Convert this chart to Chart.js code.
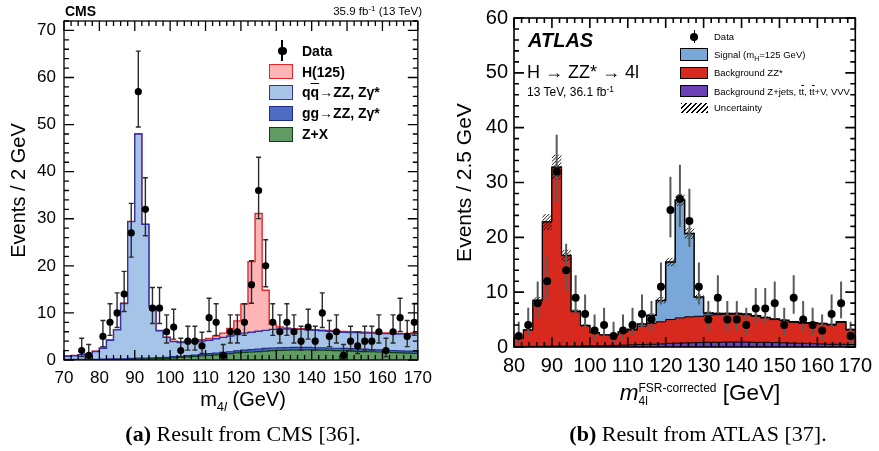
<!DOCTYPE html>
<html lang="en">
<head>
  <meta charset="UTF-8">
  <title>Four-lepton invariant mass: CMS and ATLAS</title>
  <script src="https://cdn.jsdelivr.net/npm/chart.js"></script>
  <style>
    body { margin: 0; background: #fff; font-family: 'Liberation Sans', Arial, sans-serif; color: #000; }
    #page { position: relative; width: 879px; height: 451px; overflow: hidden; }
    .panel { position: absolute; top: 0; height: 400px; }
    .t { position: absolute; white-space: nowrap; line-height: 1; }
    .c { transform: translateX(-50%); }
    .box { position: absolute; box-sizing: border-box; }
    .dot { position: absolute; border-radius: 50%; background: #000; }
    .cap { font-family: 'Liberation Serif', 'DejaVu Serif', serif; font-size: 22px; }
    .ov { text-decoration: overline; }
    sup { font-size: 0.7em; vertical-align: 0.45em; line-height: 0; }
    .ss { display: inline-block; font-size: 12px; line-height: 1.05; vertical-align: -5px; font-style: normal; }
    .ss span { display: block; }
  </style>
</head>
<body>
<div id="page">
  <div class="panel" style="left:0;width:440px"><canvas id="cms"></canvas></div>
  <div class="panel" style="left:440px;width:439px"><canvas id="atlas"></canvas></div>

  <!-- CMS panel text -->
  <div class="t" style="left:65px;top:4px;font-size:14px;font-weight:bold">CMS</div>
  <div class="t" style="right:457px;top:6px;font-size:11.5px">35.9 fb<sup>-1</sup> (13 TeV)</div>

  <div class="box" style="left:281px;top:40px;width:1.5px;height:21px;background:#000"></div>
  <div class="dot" style="left:278px;top:46.5px;width:8.5px;height:8.5px"></div>
  <div class="t" style="left:302px;top:44px;font-size:14px;font-weight:bold">Data</div>
  <div class="box" style="left:269px;top:64px;width:24px;height:15px;background:#ffb5b5;border:1.5px solid #e3262b"></div>
  <div class="t" style="left:302px;top:65px;font-size:14px;font-weight:bold">H(125)</div>
  <div class="box" style="left:269px;top:85px;width:24px;height:15px;background:#a5c4e8;border:1.5px solid #3431a6"></div>
  <div class="t" style="left:302px;top:85px;font-size:14px;font-weight:bold">q<span class="ov">q</span>→ZZ, Zγ*</div>
  <div class="box" style="left:269px;top:106px;width:24px;height:15px;background:#4d6cc2;border:1.5px solid #1f2c8f"></div>
  <div class="t" style="left:302px;top:106px;font-size:14px;font-weight:bold">gg→ZZ, Zγ*</div>
  <div class="box" style="left:269px;top:127px;width:24px;height:15px;background:#5f9b62;border:1.5px solid #0d3d10"></div>
  <div class="t" style="left:302px;top:127px;font-size:14px;font-weight:bold">Z+X</div>

  <div class="t c" style="left:243px;top:389px;font-size:20px">m<sub style="font-size:13px;vertical-align:-5px;line-height:0">4<i>l</i></sub> (GeV)</div>
  <div class="t c cap" style="left:243px;top:423px"><b>(a)</b> Result from CMS [36].</div>

  <!-- ATLAS panel text -->
  <div class="t" style="left:528px;top:30px;font-size:20px;font-weight:bold;font-style:italic">ATLAS</div>
  <div class="t" style="left:527px;top:62.5px;font-size:18px">H → ZZ* → 4l</div>
  <div class="t" style="left:527px;top:85.5px;font-size:12px">13 TeV, 36.1 fb<sup>-1</sup></div>

  <div class="box" style="left:693.5px;top:30px;width:1.5px;height:13px;background:#000"></div>
  <div class="dot" style="left:690.3px;top:32.7px;width:8px;height:8px"></div>
  <div class="t" style="left:714px;top:32px;font-size:9.5px">Data</div>
  <div class="box" style="left:680px;top:48.3px;width:28px;height:12.7px;background:#79a8d8;border:1px solid #000"></div>
  <div class="t" style="left:714px;top:50px;font-size:9.5px">Signal (m<sub style="font-size:7px;line-height:0">H</sub>=125 GeV)</div>
  <div class="box" style="left:680px;top:66.7px;width:28px;height:12.3px;background:#d8291f;border:1px solid #000"></div>
  <div class="t" style="left:714px;top:68px;font-size:9.5px">Background ZZ*</div>
  <div class="box" style="left:680px;top:85px;width:28px;height:12.3px;background:#6b3fb6;border:1px solid #000"></div>
  <div class="t" style="left:714px;top:86.5px;font-size:9.5px">Background Z+jets, t<span class="ov">t</span>, t<span class="ov">t</span>+V, VVV</div>
  <div class="box" style="left:681px;top:103px;width:27px;height:10px;background:repeating-linear-gradient(135deg,#000 0 1px,#fff 1px 3.5px)"></div>
  <div class="t" style="left:714px;top:103px;font-size:9.5px">Uncertainty</div>

  <div class="t c" style="left:700px;top:382px;font-size:22.5px"><i>m</i><span class="ss"><span>FSR-corrected</span><span>4l</span></span> [GeV]</div>
  <div class="t c cap" style="left:698px;top:423px"><b>(b)</b> Result from ATLAS [37].</div>
</div>

<script>
  // ---------- CMS: 2 GeV bins ----------
  const cmsBinLow = [70,72,74,76,78,80,82,84,86,88,90,92,94,96,98,100,102,104,106,108,110,112,114,116,118,
                     120,122,124,126,128,130,132,134,136,138,140,142,144,146,148,150,152,154,156,158,160,162,164,166,168];
  const cmsBinWidth = 2;
  const cmsData = [0,0,2,1,0,5,8,10,14,27, 57,32,11,11,6,7,2,4,4,3, 9,8,1,6,6,8,16,36,20,8,
                   6,8,6,4,7,4,10,5,6,1, 4,3,4,4,6,2,6,9,5,8];
  const cmsZX = [0.05,0.05,0.05,0.05,0.05,0.1,0.1,0.1,0.1,0.15, 0.2,0.2,0.25,0.3,0.35, 0.45,0.55,0.65,0.75,0.85,
                 1.0,1.1,1.25,1.35,1.5, 1.6,1.7,1.8,1.9,2.0, 2.05,2.1,2.15,2.15,2.15, 2.1,2.1,2.05,2.0,1.95,
                 1.9,1.85,1.8,1.75,1.7, 1.6,1.55,1.5,1.45,1.4];
  const cmsGG = [0.1,0.1,0.1,0.1,0.1,0.1,0.15,0.15,0.15,0.2, 0.2,0.2,0.2,0.2,0.2, 0.25,0.25,0.3,0.3,0.3,
                 0.35,0.35,0.4,0.4,0.45, 0.5,0.5,0.5,0.55,0.55, 0.55,0.55,0.55,0.55,0.55, 0.5,0.5,0.5,0.5,0.5,
                 0.5,0.5,0.5,0.45,0.45, 0.45,0.45,0.45,0.45,0.45];
  const cmsQQ = [0.65,0.75,0.95,1.15,1.65,2.3,3.95,6.15,11.75,29.05, 47.6,28.4,10.85,5.7,4.25, 3.2,2.9,2.75,2.75,2.85,
                 2.85,3.05,3.15,3.35,3.45, 3.6,3.7,3.8,3.85,3.95, 4.0,3.95,3.8,3.8,3.7, 3.7,3.6,3.55,3.5,3.45,
                 3.45,3.5,3.45,3.5,3.45, 3.55,3.6,3.55,3.6,3.75];
  const cmsH = [0.05,0.05,0.05,0.05,0.05,0.05,0.05,0.05,0.05,0.05, 0.05,0.05,0.05,0.05,0.05,
                0.1,0.2,0.25,0.3,0.3, 0.4,0.6,0.9,1.6,2.9, 6.2,15.0,25.0,8.5,1.1, 0.4,0.2,
                0.15,0.15,0.15,0.15,0.15,0.15,0.15,0.15,0.15,0.15,0.15,0.15,0.15,0.15,0.15,0.15,0.15,0.15];

  // ---------- ATLAS: 2.5 GeV bins ----------
  const atlasBinLow = [80,82.5,85,87.5,90,92.5,95,97.5,100,102.5,105,107.5,110,112.5,115,117.5,120,122.5,
                       125,127.5,130,132.5,135,137.5,140,142.5,145,147.5,150,152.5,155,157.5,160,162.5,165,167.5];
  const atlasBinWidth = 2.5;
  const atlasData = [2,4,8,12,32,14,9,6, 3,4,2,3, 4,6,5,11, 25,27,23,11, 5,9,5,5, 4,7,7,8, 4,9,5,4, 3,6,8,2];
  const atlasOther = [0.1,0.1,0.1,0.15,0.15,0.15,0.15,0.2, 0.2,0.25,0.3,0.35, 0.4,0.45,0.5,0.55, 0.65,0.7,0.75,0.8,
                      0.85,0.85,0.9,0.9, 0.9,0.85,0.85,0.8, 0.75,0.7,0.65,0.6, 0.55,0.5,0.5,0.45];
  const atlasZZ = [1.5,3.0,8.4,22.65,32.65,16.55,6.35,3.7, 2.4,1.95,1.9,2.45, 2.7,3.35,3.8,4.05, 4.35,4.6,4.75,4.8,
                   4.95,5.05,5.1,5.1, 5.0,4.75,4.45,4.2, 4.05,3.8,3.65,3.7, 3.65,3.5,4.0,2.65];
  const atlasSignal = [0,0,0,0,0,0,0,0, 0,0,0,0, 0.15,0.4,1.5,3.9, 10.5,21.5,15.2,3.5,
                       0.4,0.2,0.1,0.1, 0.1,0.1,0.1,0.1, 0.1,0.1,0.1,0.1, 0.1,0.1,0.1,0.1];
  const atlasUnc = [0.15,0.25,0.6,1.5,2.3,1.1,0.4,0.25, 0.15,0.15,0.15,0.15, 0.2,0.25,0.35,0.6, 0.8,1.1,1.0,0.5,
                    0.3,0.25,0.25,0.25, 0.25,0.25,0.2,0.2, 0.2,0.2,0.2,0.2, 0.2,0.2,0.2,0.2];

  Chart.defaults.font.family = "'Liberation Sans', Arial, sans-serif";
  Chart.defaults.color = '#000';

  // running sums, bottom layer first
  function stack(layers) {
    let run = layers[0].map(() => 0);
    return layers.map(layer => (run = run.map((v, i) => v + layer[i])));
  }

  function steps(lows, width, vals) {
    const pts = lows.map((x, i) => ({ x: x, y: vals[i] }));
    pts.push({ x: lows[lows.length - 1] + width, y: vals[vals.length - 1] });
    return pts;
  }

  function points(lows, width, counts) {
    return lows.map((x, i) => ({ x: x + width / 2, y: counts[i] })).filter(p => p.y > 0);
  }

  // 68% Poisson interval (Wilson-Hilferty approximation of the Garwood limits)
  function poisson(n) {
    const lo = n === 0 ? 0 : n * Math.pow(1 - 1 / (9 * n) - 1 / (3 * Math.sqrt(n)), 3);
    const m = n + 1;
    const hi = m * Math.pow(1 - 1 / (9 * m) + 1 / (3 * Math.sqrt(m)), 3);
    return [lo, hi];
  }

  const hist = (label, lows, width, vals, fill, line, lw, order) => ({
    label, data: steps(lows, width, vals), stepped: true, fill: 'origin',
    backgroundColor: fill, borderColor: line, borderWidth: lw, pointRadius: 0, order
  });

  const dataSet = (lows, width, counts, r) => ({
    label: 'Data', isData: true, data: points(lows, width, counts), showLine: false,
    pointRadius: r, pointBackgroundColor: '#000', pointBorderColor: '#000', pointBorderWidth: 0, order: 0
  });

  // error bars, uncertainty hatching, closed frame with inward ticks
  const hepPlot = {
    id: 'hep',
    beforeDatasetDraw(chart, args, o) {
      const ds = chart.data.datasets[args.index];
      if (!ds.isData) return;
      const { ctx, chartArea: a, scales: { x, y } } = chart;
      ctx.save();
      ctx.beginPath();
      ctx.rect(a.left, a.top, a.right - a.left, a.bottom - a.top);
      ctx.clip();
      if (o.band) {
        const b = o.band;
        b.lows.forEach((lo, i) => {
          const x0 = x.getPixelForValue(lo), x1 = x.getPixelForValue(lo + b.width);
          const y0 = y.getPixelForValue(b.total[i] + b.err[i]), y1 = y.getPixelForValue(b.total[i] - b.err[i]);
          const h = y1 - y0;
          ctx.save();
          ctx.beginPath(); ctx.rect(x0, y0, x1 - x0, h); ctx.clip();
          ctx.beginPath();
          for (let s = x0 - h; s < x1; s += 3.5) { ctx.moveTo(s, y1); ctx.lineTo(s + h, y0); }
          ctx.strokeStyle = '#000'; ctx.lineWidth = 0.9; ctx.stroke();
          ctx.restore();
        });
      }
      ctx.strokeStyle = o.errColor; ctx.lineWidth = o.errWidth;
      ctx.beginPath();
      ds.data.forEach(p => {
        const [lo, hi] = poisson(p.y);
        const px = x.getPixelForValue(p.x);
        const yt = y.getPixelForValue(hi), yb = y.getPixelForValue(lo);
        ctx.moveTo(px, yt); ctx.lineTo(px, yb);
        if (o.cap) {
          ctx.moveTo(px - o.cap, yt); ctx.lineTo(px + o.cap, yt);
          ctx.moveTo(px - o.cap, yb); ctx.lineTo(px + o.cap, yb);
        }
      });
      ctx.stroke();
      ctx.restore();
    },
    afterDraw(chart, args, o) {
      const { ctx, chartArea: a, scales: { x, y } } = chart;
      ctx.save();
      ctx.strokeStyle = '#000';
      ctx.lineWidth = o.frameWidth;
      ctx.strokeRect(a.left, a.top, a.right - a.left, a.bottom - a.top);
      ctx.beginPath();
      const run = (scale, step, len, horiz) => {
        for (let v = scale.min; v <= scale.max + 1e-9; v += step) {
          const p = scale.getPixelForValue(v);
          if (horiz) {
            ctx.moveTo(p, a.bottom); ctx.lineTo(p, a.bottom - len);
            ctx.moveTo(p, a.top); ctx.lineTo(p, a.top + len);
          } else {
            ctx.moveTo(a.left, p); ctx.lineTo(a.left + len, p);
            ctx.moveTo(a.right, p); ctx.lineTo(a.right - len, p);
          }
        }
      };
      run(x, o.xMinor, 5, true);
      run(x, o.xMajor, 10, true);
      run(y, o.yMinor, 5, false);
      run(y, o.yMajor, 10, false);
      ctx.stroke();
      ctx.restore();
    }
  };

  function axes(xmin, xmax, ymax, tickSize, pad, yTitle, titleSize, titlePad, yWidth, xHeight) {
    return {
      x: {
        type: 'linear', min: xmin, max: xmax,
        grid: { display: false, drawTicks: false }, border: { display: false },
        ticks: { stepSize: 10, font: { size: tickSize }, padding: pad.x, maxRotation: 0, autoSkip: false, includeBounds: false },
        afterFit: s => { s.height = xHeight; }
      },
      y: {
        min: 0, max: ymax,
        grid: { display: false, drawTicks: false }, border: { display: false },
        ticks: { stepSize: 10, font: { size: tickSize }, padding: pad.y, includeBounds: false },
        title: { display: true, text: yTitle, font: { size: titleSize }, padding: { top: titlePad, bottom: 0 } },
        afterFit: s => { s.width = yWidth; }
      }
    };
  }

  // ---------- CMS chart ----------
  const [cmsZXs, cmsGGs, cmsQQs, cmsHs] = stack([cmsZX, cmsGG, cmsQQ, cmsH]);

  new Chart(document.getElementById('cms'), {
    type: 'line',
    data: {
      datasets: [
        dataSet(cmsBinLow, cmsBinWidth, cmsData, 3.6),
        hist('Z+X', cmsBinLow, cmsBinWidth, cmsZXs, '#5f9b62', '#0d3d10', 1.2, 1),
        hist('gg→ZZ, Zγ*', cmsBinLow, cmsBinWidth, cmsGGs, '#4d6cc2', '#1f2c8f', 1.2, 2),
        hist('qq→ZZ, Zγ*', cmsBinLow, cmsBinWidth, cmsQQs, '#a5c4e8', '#3431a6', 1.4, 3),
        hist('H(125)', cmsBinLow, cmsBinWidth, cmsHs, '#ffb5b5', '#e3262b', 1.4, 4)
      ]
    },
    options: {
      responsive: true, maintainAspectRatio: false, animation: false,
      layout: { padding: { left: 0, right: 17, top: 21, bottom: 0 } },
      plugins: {
        legend: { display: false }, tooltip: { enabled: false },
        hep: { errColor: '#2a2a2a', errWidth: 1.4, cap: 2.5, frameWidth: 1.3, xMajor: 10, xMinor: 2, yMajor: 10, yMinor: 2 }
      },
      scales: axes(70, 170, 72, 17, { x: 8, y: 8 }, 'Events / 2 GeV', 20, 7, 64, 40)
    },
    plugins: [hepPlot]
  });

  // ---------- ATLAS chart ----------
  const [atOtherS, atZZS, atTotS] = stack([atlasOther, atlasZZ, atlasSignal]);

  new Chart(document.getElementById('atlas'), {
    type: 'line',
    data: {
      datasets: [
        dataSet(atlasBinLow, atlasBinWidth, atlasData, 4),
        hist('Background Z+jets, tt, tt+V, VVV', atlasBinLow, atlasBinWidth, atOtherS, '#6b3fb6', '#000', 1, 1),
        hist('Background ZZ*', atlasBinLow, atlasBinWidth, atZZS, '#d8291f', '#000', 1, 2),
        hist('Signal', atlasBinLow, atlasBinWidth, atTotS, '#79a8d8', '#000', 1.5, 3)
      ]
    },
    options: {
      responsive: true, maintainAspectRatio: false, animation: false,
      layout: { padding: { left: 0, right: 20, top: 17, bottom: 0 } },
      plugins: {
        legend: { display: false }, tooltip: { enabled: false },
        hep: {
          errColor: '#5a5a5a', errWidth: 2, cap: 0, frameWidth: 1.6, xMajor: 10, xMinor: 2, yMajor: 10, yMinor: 2,
          band: { lows: atlasBinLow, width: atlasBinWidth, total: atTotS, err: atlasUnc }
        }
      },
      scales: axes(80, 170, 60, 20, { x: 7, y: 6 }, 'Events / 2.5 GeV', 21, 13, 74, 53)
    },
    plugins: [hepPlot]
  });
</script>
</body>
</html>
